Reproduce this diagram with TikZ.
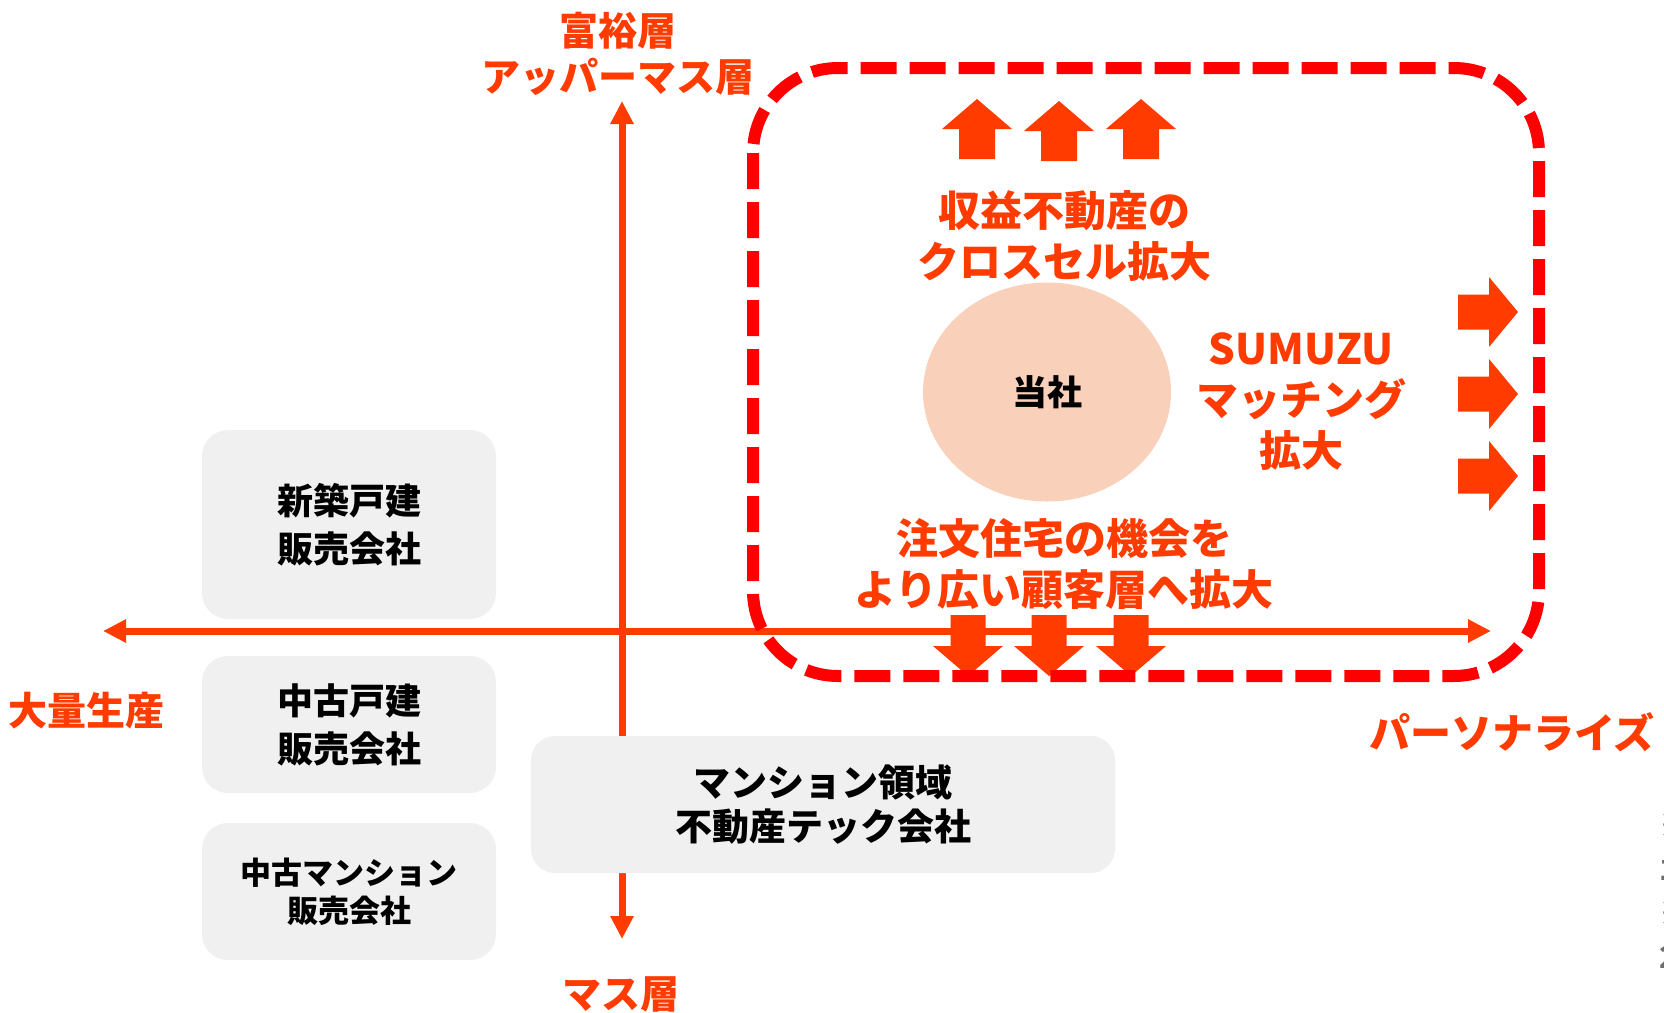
\documentclass[tikz,border=0pt]{standalone}
\usepackage{fontspec}
\setmainfont{Noto Sans CJK JP}
\usetikzlibrary{arrows.meta}
\definecolor{accent}{RGB}{255,59,0}
\definecolor{dashred}{RGB}{255,0,0}
\definecolor{peach}{RGB}{249,208,186}
\definecolor{boxgray}{RGB}{240,240,240}
\definecolor{notegray}{RGB}{110,110,110}
\begin{document}
\begin{tikzpicture}[x=1pt,y=-1pt,
  axisline/.style={draw=accent, line width=7pt, -{Triangle[length=23pt,width=22pt]}},
  cobox/.style={fill=boxgray, draw=none, rounded corners=26pt, inner sep=0pt, align=center, text=black},
  boxtext/.style={font=\bfseries\fontsize{36}{48}\selectfont},
  redlabel/.style={text=accent, inner sep=0pt, align=center, font=\bfseries\fontsize{39}{46}\selectfont},
  bigtext/.style={text=accent, inner sep=0pt, align=center, font=\bfseries\fontsize{42}{51}\selectfont},
  bigarrow/.style={fill=accent, draw=none},
  zone/.style={draw=dashred, line width=12pt, dash pattern=on 36pt off 13pt, rounded corners=85pt}
]
\useasboundingbox (0,0) rectangle (1664,1012);

% axes
\coordinate (vtop) at (622,101);
\coordinate (vbot) at (622,939);
\coordinate (hleft) at (103,631);
\coordinate (hright) at (1491,631);
\coordinate (orig) at (622,631);
\draw[axisline] (orig) -- (vtop);
\draw[axisline] (orig) -- (vbot);
\draw[axisline] (orig) -- (hleft);
\draw[axisline] (orig) -- (hright);

% axis labels
\node[redlabel] (rich) at (618,54) {富裕層\\アッパーマス層};
\node[redlabel] (mass) at (621,994) {マス層};
\node[redlabel] (massprod) at (87,711) {大量生産};
\node[redlabel, font=\bfseries\fontsize{41}{46}\selectfont] (pers) at (1512,732) {パーソナライズ};

% competitor boxes
\node[cobox, boxtext, minimum width=294pt, minimum height=189pt] (b1) at (349,524.5) {新築戸建\\販売会社};
\node[cobox, boxtext, minimum width=294pt, minimum height=137pt] (b2) at (349,724.5) {中古戸建\\販売会社};
\node[cobox, font=\bfseries\fontsize{31}{38}\selectfont, minimum width=294pt, minimum height=137pt] (b3) at (349,891.5) {中古マンション\\販売会社};
\node[cobox, font=\bfseries\fontsize{37}{44}\selectfont, minimum width=584pt, minimum height=137pt, rounded corners=24pt] (b4) at (823,804.5) {マンション領域\\不動産テック会社};

% company ellipse
\fill[peach] (1047,392) ellipse [x radius=124, y radius=109.5];
\node[font=\bfseries\fontsize{35}{40}\selectfont, text=black, inner sep=0pt] (self) at (1047,392) {当社};

% up arrows
\foreach \cx/\ty in {977/99, 1059/101, 1141/99}{
  \fill[bigarrow] (\cx,\ty) -- ++(35,30) -- ++(-17,0) -- ++(0,30) -- ++(-36,0) -- ++(0,-30) -- ++(-17,0) -- cycle;
}
% down arrows
\foreach \cx in {968, 1049, 1131}{
  \fill[bigarrow] (\cx,676) -- ++(35,-30) -- ++(-17.5,0) -- ++(0,-31) -- ++(-35,0) -- ++(0,31) -- ++(-17.5,0) -- cycle;
}
% right arrows
\foreach \cy in {312, 394, 476}{
  \fill[bigarrow] (1518,\cy) -- ++(-29,-35) -- ++(0,17.5) -- ++(-31,0) -- ++(0,35) -- ++(31,0) -- ++(0,17.5) -- cycle;
}

% strategy texts
\node[bigtext] (cross) at (1064,236) {収益不動産の\\クロスセル拡大};
\node[bigtext] (sumuzu) at (1301,402) {SUMUZU\\マッチング\\拡大};
\node[bigtext] (custom) at (1064,564) {注文住宅の機会を\\より広い顧客層へ拡大};

% dashed zone
\draw[zone] (753,68) rectangle (1539,676);

% cut-off vertical note at right edge
\node[anchor=north west, align=left, text=notegray, inner sep=0pt, font=\bfseries\fontsize{30}{44}\selectfont] (note) at (1659,814) {※\\1\\※\\2};
\end{tikzpicture}
\end{document}
